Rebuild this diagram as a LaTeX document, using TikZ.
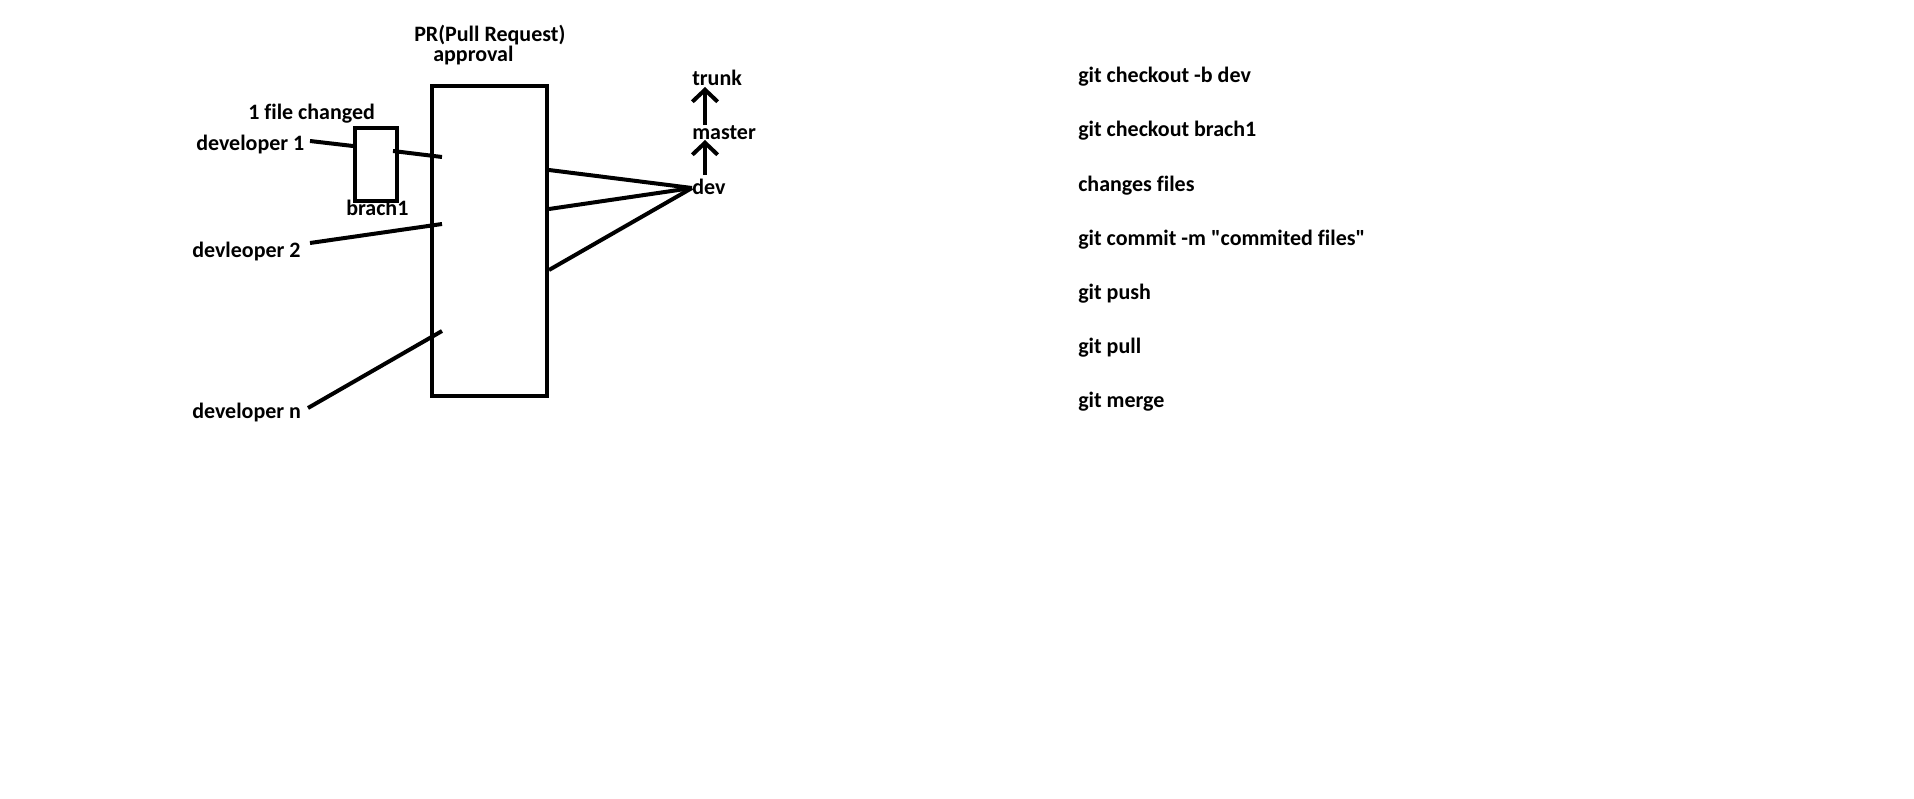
\documentclass[tikz,border=0pt]{standalone}
\usepackage{fontspec}
\setmainfont{Carlito}[Ligatures=NoCommon]
\usetikzlibrary{arrows.meta, positioning}

\begin{document}
\begin{tikzpicture}[
  x=0.75pt, y=-0.75pt,
  font=\bfseries\fontsize{16.5}{19}\selectfont,
  lbl/.style={anchor=base west, inner sep=0pt},
  box/.style={draw, line width=3pt, inner sep=0pt},
  wire/.style={line width=3pt},
  uparrow/.style={wire, -{Straight Barb[length=9pt, width=19pt]}}
]
\useasboundingbox[fill=white] (0,0) rectangle (1914,799);

% boxes
\node[box, minimum width=86.25pt, minimum height=232.5pt] (pr) at (489.5,241) {};
\node[box, minimum width=31.5pt, minimum height=54.75pt] (br1) at (376,164.5) {};

% labels
\node[lbl] (prtitle) at (414,42) {PR(Pull Request)};
\node[lbl] (approval) at (433,62) {approval};
\node[lbl] (changed) at (248,119) {1 file changed};
\node[lbl] (dev1) at (196,150) {developer 1};
\node[lbl] (br1lbl) at (346,215) {brach1};
\node[lbl] (dev2) at (192,257) {devleoper 2};
\node[lbl] (devn) at (192,418) {developer n};
\node[lbl] (dev) at (692,194) {dev};
\node[lbl] (master) at (692,139) {master};
\node[lbl] (trunk) at (692,85) {trunk};

% wire ends
\coordinate (d1a) at (310,141);
\coordinate (d1b) at (353,146);
\coordinate (b1a) at (393,151);
\coordinate (pin1) at (442,157);
\coordinate (d2a) at (310,243);
\coordinate (pin2) at (442,224);
\coordinate (dna) at (308,408);
\coordinate (pin3) at (442,331);
\coordinate (pout1) at (549,170);
\coordinate (pout2) at (549,209);
\coordinate (pout3) at (549,270);
\coordinate (hub) at (692,188);
\coordinate (devtop) at (705,175);
\coordinate (mastertip) at (705,140);
\coordinate (mastertop) at (705,125);
\coordinate (trunktip) at (705,87);

\draw[wire] (d1a) -- (d1b);
\draw[wire] (b1a) -- (pin1);
\draw[wire] (d2a) -- (pin2);
\draw[wire] (dna) -- (pin3);
\draw[wire] (pout1) -- (hub);
\draw[wire] (pout2) -- (hub);
\draw[wire] (pout3) -- (hub);
\draw[uparrow] (devtop) -- (mastertip);
\draw[uparrow] (mastertop) -- (trunktip);

% commands
\foreach \cmd [count=\i from 0] in {git checkout -b dev, git checkout brach1, changes files,
  git commit -m \textquotedbl{}commited files\textquotedbl, git push, git pull, git merge}
  \node[lbl] (cmd\i) at (1078,83+54*\i) {\cmd};
\end{tikzpicture}
\end{document}
